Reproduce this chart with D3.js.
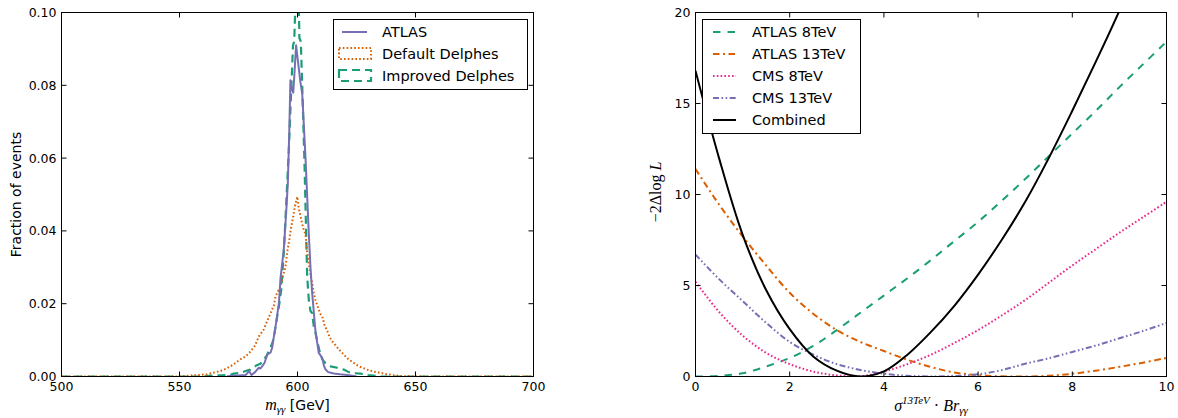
<!DOCTYPE html>
<html>
<head>
<meta charset="utf-8">
<script src="https://cdn.jsdelivr.net/npm/d3@7"></script>
<style>
  html, body { margin: 0; padding: 0; background: #fff; }
  svg { display: block; }
  text { font-family: "DejaVu Sans", sans-serif; fill: #000; }
  .math { font-family: "Liberation Serif", "DejaVu Serif", serif; }
</style>
</head>
<body>
<svg id="chart" width="1178" height="418"></svg>
<script>
// ---------------- Left panel data: m_yy distribution ----------------
const atlasMass = [570,572,575,578,579.5,580.5,582,582.9,583.6,584.3,585,586,587.2,588.6,589.3,590,591,592.1,592.8,594.2,595.2,595.9,596.5,597,597.7,598.2,598.6,599.4,600.3,601.2,602,603.4,604.8,605.5,606.2,607.6,609,610.5,611.2,611.9,613,615.4,618,620,622.5,625];
const atlasFrac = [0,0.0002,0.0003,0.0004,0.0015,0.0004,0.0012,0.0019,0.0024,0.0022,0.0028,0.0037,0.006,0.0066,0.008,0.011,0.015,0.02,0.027,0.035,0.045,0.053,0.067,0.0814,0.0786,0.078,0.082,0.091,0.086,0.081,0.0777,0.06,0.039,0.03,0.023,0.0125,0.0065,0.0051,0.003,0.0019,0.0012,0.0008,0.0006,0.0005,0.0003,0];

const defaultMass = [500,550,555,558,561.7,564,567.4,570,571.6,573.5,575.8,578,580,582,583.6,584.5,585.7,587,588.6,590,590.7,591.8,592.8,594,594.9,595.6,596.3,597.3,598.2,598.9,599.9,600.6,601.3,602.3,603.4,604.1,604.8,605.5,606.2,606.9,607.6,608.7,609.7,610.5,611.5,612.6,613.5,614.5,615.4,617.6,619.6,621.5,623.9,626,629.5,632,635.2,638,641,645,650,700];
const defaultFrac = [0,0,0.0003,0.0004,0.0006,0.001,0.0015,0.0022,0.0028,0.0036,0.0047,0.0055,0.0068,0.0085,0.011,0.0118,0.0129,0.015,0.0174,0.0195,0.022,0.0235,0.0247,0.028,0.03,0.034,0.0366,0.041,0.044,0.0467,0.0494,0.046,0.044,0.041,0.039,0.034,0.031,0.028,0.0257,0.023,0.021,0.019,0.0172,0.0165,0.014,0.0125,0.011,0.0098,0.0092,0.0074,0.006,0.0048,0.0037,0.0028,0.0019,0.0014,0.001,0.0006,0.0003,0.0001,0,0];

const improvedMass = [500,560,565,568,571.6,573,575.8,578,580,581,582.5,584.3,585.5,586.8,588.6,589.5,590.3,591.4,592.3,593.1,594.2,595.3,596.3,597.3,598.1,598.6,599.2,600.5,600.8,601.4,602,603,604.1,604.8,605.5,606.2,606.9,607.6,608.3,609.5,610.5,612,614,616.8,619.6,621.7,624,626.7,630,635,700];
const improvedFrac = [0,0,0.0003,0.0003,0.0005,0.0008,0.001,0.0015,0.0019,0.0024,0.003,0.0035,0.0045,0.0056,0.008,0.0095,0.012,0.0165,0.02,0.0238,0.034,0.0485,0.062,0.078,0.091,0.092,0.104,0.104,0.093,0.092,0.08,0.0576,0.0274,0.021,0.018,0.0174,0.0138,0.012,0.01,0.0065,0.0047,0.0035,0.0028,0.0024,0.0019,0.0012,0.0009,0.0008,0.0004,0,0];

const leftSeriesNames = ["ATLAS", "Default Delphes", "Improved Delphes"];
const leftXTicks = [500, 550, 600, 650, 700];
const leftYTicks = [0, 0.02, 0.04, 0.06, 0.08, 0.10];

// ---------------- Right panel data: -2 Delta log L ----------------
const sigmaBr = [0,0.5,1,1.5,2,2.5,3,3.5,4,4.5,5,5.5,6,6.5,7,7.5,8,8.5,9,9.5,10];
const atlas8  = [0,0.03,0.18,0.55,1.02,1.68,2.55,3.5,4.45,5.4,6.4,7.45,8.5,9.65,10.85,12.1,13.35,14.6,15.9,17.15,18.4];
const atlas13 = [11.4,9.45,7.7,6.1,4.6,3.45,2.55,1.9,1.4,0.92,0.52,0.22,0.07,0.01,0,0.04,0.15,0.32,0.53,0.76,1.02];
const cms8    = [5.2,3.55,2.25,1.3,0.68,0.27,0.06,0.01,0.27,0.68,1.2,1.85,2.55,3.35,4.2,5.15,6.1,7.0,7.9,8.75,9.6];
const cms13   = [6.7,5.35,4.15,2.95,1.9,1.2,0.68,0.36,0.15,0.04,0.0,0.03,0.12,0.35,0.7,1.0,1.35,1.7,2.1,2.5,2.94];
const combined= [16.8,12.0,7.8,4.75,2.6,1.1,0.32,0.0,0.28,1.2,2.45,3.9,5.6,7.5,9.6,12.0,14.6,17.3,20.1,23.2,26.5];
const rightSeriesNames = ["ATLAS 8TeV", "ATLAS 13TeV", "CMS 8TeV", "CMS 13TeV", "Combined"];
const rightXTicks = [0, 2, 4, 6, 8, 10];
const rightYTicks = [0, 5, 10, 15, 20];

// ---------------- Drawing ----------------
const svg = d3.select("#chart");
const TICK_FONT = 12.5;
const LEG_FONT = 14.5;

function frame(g, x, y, xTicks, yTicks, yFmt) {
  const [x0, x1] = x.range();
  const [y1, y0] = y.range();
  const tk = 5;
  const ax = g.append("g");
  xTicks.forEach(t => {
    ax.append("line").attr("x1", x(t)).attr("x2", x(t)).attr("y1", y1).attr("y2", y1 - tk).attr("stroke", "#000");
    ax.append("line").attr("x1", x(t)).attr("x2", x(t)).attr("y1", y0).attr("y2", y0 + tk).attr("stroke", "#000");
    ax.append("text").attr("x", x(t)).attr("y", y1 + 14.5).attr("text-anchor", "middle")
      .style("font-size", TICK_FONT + "px").text(t);
  });
  yTicks.forEach(t => {
    ax.append("line").attr("x1", x0).attr("x2", x0 + tk).attr("y1", y(t)).attr("y2", y(t)).attr("stroke", "#000");
    ax.append("line").attr("x1", x1).attr("x2", x1 - tk).attr("y1", y(t)).attr("y2", y(t)).attr("stroke", "#000");
    ax.append("text").attr("x", x0 - 5).attr("y", y(t)).attr("dy", "0.36em").attr("text-anchor", "end")
      .style("font-size", TICK_FONT + "px").text(yFmt(t));
  });
  g.append("rect").attr("x", x0).attr("y", y0).attr("width", x1 - x0).attr("height", y1 - y0)
    .attr("fill", "none").attr("stroke", "#000").attr("stroke-width", 1);
}

// ---- Left panel ----
const L = {x0: 61.5, x1: 533.5, y0: 12.5, y1: 376.5};
const xL = d3.scaleLinear().domain([500, 700]).range([L.x0, L.x1]);
const yL = d3.scaleLinear().domain([0, 0.1]).range([L.y1, L.y0]);

svg.append("clipPath").attr("id", "clipL").append("rect")
  .attr("x", L.x0).attr("y", L.y0).attr("width", L.x1 - L.x0).attr("height", L.y1 - L.y0);

const gL = svg.append("g");
const plotL = gL.append("g").attr("clip-path", "url(#clipL)");
const lineL = d3.line().x(d => xL(d[0])).y(d => yL(d[1]));

const leftSeries = [
  {xs: improvedMass, ys: improvedFrac, color: "#1b9e77", dash: "8,5", w: 2.2},
  {xs: defaultMass, ys: defaultFrac, color: "#d95f02", dash: "1.6,2.2", w: 2},
  {xs: atlasMass, ys: atlasFrac, color: "#7570b3", dash: null, w: 2}
];
leftSeries.forEach(s => {
  plotL.append("path").datum(s.xs.map((v, i) => [v, s.ys[i]]))
    .attr("d", lineL).attr("fill", "none").attr("stroke", s.color)
    .attr("stroke-width", s.w).attr("stroke-dasharray", s.dash)
    .attr("stroke-linejoin", "round");
});
frame(gL, xL, yL, leftXTicks, leftYTicks, d3.format(".2f"));

// left legend
const lg = gL.append("g");
lg.append("rect").attr("x", 333.5).attr("y", 19.5).attr("width", 194).attr("height", 70)
  .attr("fill", "#fff").attr("stroke", "#000").attr("stroke-width", 1);
lg.append("line").attr("x1", 342).attr("x2", 367).attr("y1", 32).attr("y2", 32)
  .attr("stroke", "#7570b3").attr("stroke-width", 2);
lg.append("rect").attr("x", 339).attr("y", 48).attr("width", 32).attr("height", 11)
  .attr("fill", "none").attr("stroke", "#d95f02").attr("stroke-width", 2).attr("stroke-dasharray", "1.6,2.2");
lg.append("rect").attr("x", 339).attr("y", 70).attr("width", 32).attr("height", 11)
  .attr("fill", "none").attr("stroke", "#1b9e77").attr("stroke-width", 2.2).attr("stroke-dasharray", "8,5");
[32, 54, 76].forEach((yy, i) => {
  lg.append("text").attr("x", 382).attr("y", yy).attr("dy", "0.36em")
    .style("font-size", LEG_FONT + "px").text(leftSeriesNames[i]);
});

// left axis labels
gL.append("text").attr("transform", "translate(21,194.5) rotate(-90)")
  .attr("text-anchor", "middle").style("font-size", "14px").text("Fraction of events");
const xlabL = gL.append("text").attr("x", 297.5).attr("y", 410).attr("text-anchor", "middle");
xlabL.append("tspan").attr("class", "math").style("font-style", "italic").style("font-size", "16px").text("m");
xlabL.append("tspan").attr("class", "math").style("font-style", "italic").style("font-size", "11px")
  .attr("dy", 3).text("γγ");
xlabL.append("tspan").style("font-size", "14px").attr("dy", -3).text(" [GeV]");

// ---- Right panel ----
const R = {x0: 695.5, x1: 1166.5, y0: 12.5, y1: 376.5};
const xR = d3.scaleLinear().domain([0, 10]).range([R.x0, R.x1]);
const yR = d3.scaleLinear().domain([0, 20]).range([R.y1, R.y0]);

svg.append("clipPath").attr("id", "clipR").append("rect")
  .attr("x", R.x0).attr("y", R.y0).attr("width", R.x1 - R.x0).attr("height", R.y1 - R.y0);

const gR = svg.append("g");
const plotR = gR.append("g").attr("clip-path", "url(#clipR)");
const lineR = d3.line().x(d => xR(d[0])).y(d => yR(d[1])).curve(d3.curveCatmullRom.alpha(0.5));

const rightSeries = [
  {ys: atlas8, color: "#1b9e77", dash: "7.5,7"},
  {ys: atlas13, color: "#d95f02", dash: "6.5,3.5,2,3.5"},
  {ys: cms8, color: "#e7298a", dash: "1.6,2.2"},
  {ys: cms13, color: "#7570b3", dash: "6,2.5,1.6,2.5,1.6,2.5"},
  {ys: combined, color: "#000000", dash: null}
];
rightSeries.forEach(s => {
  plotR.append("path").datum(sigmaBr.map((v, i) => [v, s.ys[i]]))
    .attr("d", lineR).attr("fill", "none").attr("stroke", s.color)
    .attr("stroke-width", 2).attr("stroke-dasharray", s.dash);
});
frame(gR, xR, yR, rightXTicks, rightYTicks, d3.format("d"));

// right legend
const rg = gR.append("g");
rg.append("rect").attr("x", 702.5).attr("y", 19.5).attr("width", 158).attr("height", 114)
  .attr("fill", "#fff").attr("stroke", "#000").attr("stroke-width", 1);
[32, 54, 76, 98, 120].forEach((yy, i) => {
  const s = rightSeries[i];
  rg.append("line").attr("x1", 713).attr("x2", 736).attr("y1", yy).attr("y2", yy)
    .attr("stroke", s.color).attr("stroke-width", 2).attr("stroke-dasharray", s.dash);
  rg.append("text").attr("x", 752).attr("y", yy).attr("dy", "0.36em")
    .style("font-size", LEG_FONT + "px").text(rightSeriesNames[i]);
});

// right axis labels
const ylabR = gR.append("text").attr("class", "math")
  .attr("transform", "translate(661,192) rotate(-90)").attr("text-anchor", "middle").style("font-size", "16px");
ylabR.append("tspan").text("−2Δlog");
ylabR.append("tspan").style("font-style", "italic").text(" L");

const xlabR = gR.append("text").attr("class", "math").attr("x", 931).attr("y", 411)
  .attr("text-anchor", "middle").style("font-size", "16px");
xlabR.append("tspan").style("font-style", "italic").text("σ");
xlabR.append("tspan").style("font-style", "italic").style("font-size", "11px").attr("dy", -7).text("13TeV");
xlabR.append("tspan").attr("dy", 7).text(" · ");
xlabR.append("tspan").style("font-style", "italic").text("Br");
xlabR.append("tspan").style("font-style", "italic").style("font-size", "11px").attr("dy", 3).text("γγ");
</script>
</body>
</html>
